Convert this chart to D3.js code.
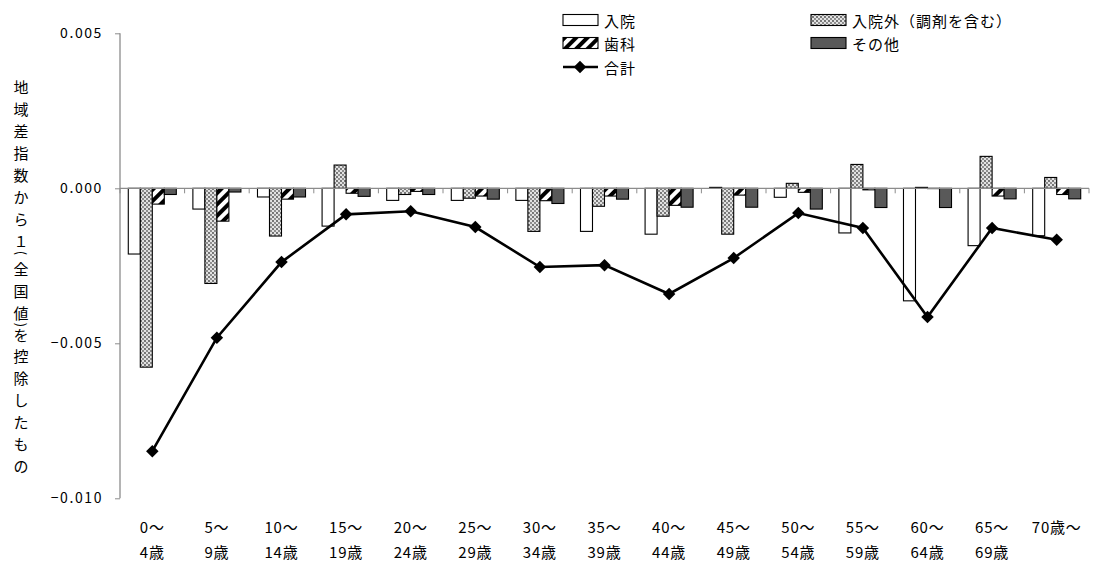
<!DOCTYPE html>
<html><head><meta charset="utf-8">
<script src="https://cdn.jsdelivr.net/npm/d3@7"></script>
<style>
body{margin:0;background:#fff;}
text{font-family:"Noto Sans CJK JP","Noto Sans",sans-serif;fill:#000;font-weight:400;}
</style></head>
<body><svg id="c" width="1098" height="571"></svg>
<script>
const categories = ["0～|4歳","5～|9歳","10～|14歳","15～|19歳","20～|24歳","25～|29歳","30～|34歳","35～|39歳","40～|44歳","45～|49歳","50～|54歳","55～|59歳","60～|64歳","65～|69歳","70歳～"];
const seriesNames = ["入院","入院外（調剤を含む）","歯科","その他"];
const inpatient   = [-0.00212,-0.00067,-0.00028,-0.00122,-0.00039,-0.00039,-0.00039,-0.00139,-0.00148, 0.00003,-0.00029,-0.00144,-0.00363,-0.00185,-0.00153];
const outpatient  = [-0.00577,-0.00307,-0.00154, 0.00075,-0.00020,-0.00032,-0.00139,-0.00058,-0.00090,-0.00148, 0.00016, 0.00077, 0.00003, 0.00103, 0.00035];
const dental      = [-0.00051,-0.00106,-0.00035,-0.00016,-0.00010,-0.00025,-0.00040,-0.00025,-0.00055,-0.00022,-0.00013,-0.00005,-0.00001,-0.00025,-0.00020];
const other       = [-0.00020,-0.00012,-0.00028,-0.00026,-0.00020,-0.00035,-0.00049,-0.00035,-0.00061,-0.00061,-0.00067,-0.00062,-0.00062,-0.00034,-0.00034];
const total       = [-0.00848,-0.00482,-0.00238,-0.00084,-0.00074,-0.00125,-0.00254,-0.00248,-0.00341,-0.00225,-0.00080,-0.00128,-0.00415,-0.00128,-0.00166];
const totalName = "合計";
const yTicks = [0.005, 0, -0.005, -0.010];
const yTitleChars = ["地","域","差","指","数","か","ら","１","(","全","国","値",")","を","控","除","し","た","も","の"];

const svg = d3.select("#c");
const defs = svg.append("defs");
const pd = defs.append("pattern").attr("id","dots").attr("patternUnits","userSpaceOnUse").attr("width",4).attr("height",4);
pd.append("rect").attr("width",4).attr("height",4).attr("fill","#e2e2e2");
pd.append("circle").attr("cx",1).attr("cy",1).attr("r",0.9).attr("fill","#444");
pd.append("circle").attr("cx",3).attr("cy",3).attr("r",0.9).attr("fill","#666");
const ph = defs.append("pattern").attr("id","hatch").attr("patternUnits","userSpaceOnUse").attr("width",8).attr("height",8).attr("patternTransform","rotate(45)");
ph.append("rect").attr("width",8).attr("height",8).attr("fill","#fff");
ph.append("rect").attr("width",4).attr("height",8).attr("fill","#000");

const fills = ["#ffffff","url(#dots)","url(#hatch)","#595959"];
const seriesData = [inpatient,outpatient,dental,other];

const x0 = d3.scaleBand().domain(categories).range([120,1089]).paddingInner(0).paddingOuter(0);
const x1 = d3.scaleBand().domain(seriesNames).range([0,x0.bandwidth()]).paddingInner(0).paddingOuter(0.69);
const y = d3.scaleLinear().domain([-0.010,0.005]).range([498.3,33.3]);

seriesNames.forEach((s,si)=>{
  svg.append("g").selectAll("rect").data(seriesData[si]).join("rect")
    .attr("x",(d,i)=>x0(categories[i])+x1(s))
    .attr("y",d=>y(Math.max(0,d)))
    .attr("width",x1.bandwidth())
    .attr("height",d=>Math.abs(y(d)-y(0)))
    .attr("fill",fills[si]).attr("stroke","#000").attr("stroke-width",1.1);
});

const gx = svg.append("g");
gx.append("line").attr("x1",120).attr("x2",1089).attr("y1",y(0)).attr("y2",y(0)).attr("stroke","#8c8c8c").attr("stroke-width",1.3);
const bounds = categories.map(c=>x0(c)).concat([1089]);
gx.selectAll("line.t").data(bounds).join("line").attr("class","t")
  .attr("x1",d=>d).attr("x2",d=>d).attr("y1",y(0)).attr("y2",y(0)+5).attr("stroke","#8c8c8c").attr("stroke-width",1);

const yAxis = d3.axisLeft(y).tickValues(yTicks).tickSize(5).tickPadding(12).tickFormat(d3.format(".3f"));
const gy = svg.append("g").attr("transform","translate(120,0)").call(yAxis);
gy.select(".domain").attr("stroke","#8c8c8c").attr("stroke-width",1.3).attr("d","M0,33.3V498.3");
gy.selectAll(".tick line").attr("stroke","#8c8c8c");
gy.selectAll(".tick text").style("font-size","14px").style("letter-spacing","1.6px").attr("font-family",null).attr("fill","#000");

categories.forEach(c=>{
  const parts = c.split("|");
  const cx = x0(c)+x0.bandwidth()/2;
  parts.forEach((p,k)=>{
    svg.append("text").attr("x",cx).attr("y",533+k*25).attr("text-anchor","middle")
      .style("font-size","15px").style("letter-spacing","0.8px").text(p);
  });
});

const line = d3.line().x((d,i)=>x0(categories[i])+x0.bandwidth()/2).y(d=>y(d));
svg.append("path").datum(total).attr("d",line).attr("fill","none").attr("stroke","#000").attr("stroke-width",2.6);
const diamond = d3.symbol().type(d3.symbolSquare).size(78);
svg.append("g").selectAll("path").data(total).join("path")
  .attr("d",diamond)
  .attr("transform",(d,i)=>`translate(${x0(categories[i])+x0.bandwidth()/2},${y(d)}) rotate(45)`)
  .attr("fill","#000");

const yTitlePos = [86.7,108.5,130.5,152.5,174.5,196.5,218.5,240,253,268,290,312,325,334,355,377,399,421,443,465];
yTitleChars.forEach((ch,i)=>{
  const t = svg.append("text").attr("text-anchor","middle").attr("dominant-baseline","central")
    .style("font-size","15px").text(ch);
  if (ch==="(" || ch===")") {
    t.attr("transform",`translate(21,${yTitlePos[i]}) rotate(90)`).style("font-size","13px");
  } else {
    t.attr("x",21).attr("y",yTitlePos[i]);
  }
});

const leg = svg.append("g");
const legItems = [
  {name:seriesNames[0], fill:fills[0], x:563, y:20},
  {name:seriesNames[1], fill:fills[1], x:811, y:20},
  {name:seriesNames[2], fill:fills[2], x:563, y:43},
  {name:seriesNames[3], fill:fills[3], x:811, y:43}
];
legItems.forEach(it=>{
  leg.append("rect").attr("x",it.x).attr("y",it.y-5.5).attr("width",35).attr("height",11)
    .attr("fill",it.fill).attr("stroke","#000").attr("stroke-width",1.1);
  leg.append("text").attr("x",it.x+41).attr("y",it.y).attr("dominant-baseline","central")
    .style("font-size","15px").style("letter-spacing","1px").text(it.name);
});
leg.append("line").attr("x1",563).attr("x2",598).attr("y1",67).attr("y2",67).attr("stroke","#000").attr("stroke-width",2.6);
leg.append("path").attr("d",diamond).attr("transform","translate(580,67) rotate(45)").attr("fill","#000");
leg.append("text").attr("x",604).attr("y",67).attr("dominant-baseline","central")
  .style("font-size","15px").style("letter-spacing","1px").text(totalName);
</script></body></html>
